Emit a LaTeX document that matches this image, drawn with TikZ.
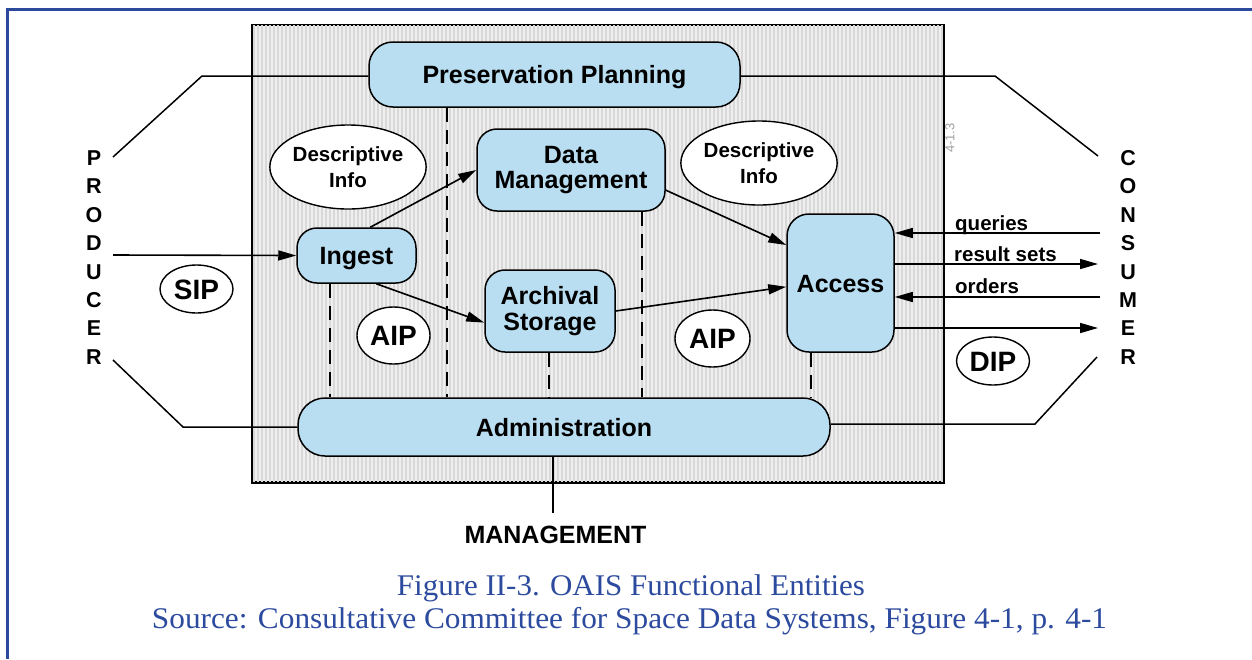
\documentclass[tikz,border=0pt]{standalone}
\usepackage{fontspec}
\usepackage{graphicx}
\newfontfamily\diagfont{Liberation Sans}
\newfontfamily\capfont{Liberation Serif}
\usetikzlibrary{arrows.meta,shapes.geometric}

\definecolor{frameblue}{HTML}{2B4A9C}
\definecolor{boxblue}{HTML}{B9DEF1}
\definecolor{hatchbg}{HTML}{EFEFEF}
\definecolor{hatchline}{HTML}{D8D8D8}
\definecolor{captionblue}{HTML}{2C4A9E}

\begin{document}
\begin{tikzpicture}[x=1pt,y=-1pt,
  entity/.style={draw=black, line width=1.5pt, fill=boxblue, align=center, inner sep=0pt,
    font=\diagfont\bfseries\fontsize{25}{25.5}\selectfont},
  infobubble/.style={ellipse, draw=black, line width=1.4pt, fill=white, inner sep=0pt, align=center,
    font=\diagfont\bfseries\fontsize{20.5}{26}\selectfont},
  package/.style={ellipse, draw=black, line width=1.4pt, fill=white, inner sep=0pt,
    text height=20pt, text depth=0pt,
    font=\diagfont\bfseries\fontsize{28}{30}\selectfont},
  flow/.style={line width=1.6pt, -{Triangle[length=18pt,width=10pt]}},
  link/.style={line width=1.5pt},
  tie/.style={line width=1.5pt, dash pattern=on 14pt off 8pt},
  party/.style={font=\diagfont\bfseries\fontsize{21.5}{21.5}\selectfont, inner sep=0pt},
  flowlabel/.style={font=\diagfont\bfseries\fontsize{20.5}{22}\selectfont, anchor=base west, inner sep=0pt},
  caption/.style={text=captionblue, anchor=base, inner sep=0pt, font=\capfont\fontsize{30}{32}\selectfont}
]
\useasboundingbox (0,0) rectangle (1252,659);
\fill[white] (0,0) rectangle (1252,659);

% page frame (open on the right and bottom)
\draw[frameblue, line width=3pt] (7,659) -- (7,9) -- (1252,9);

% hatched archive area
\node[draw=black, line width=1.5pt, fill=hatchbg, minimum width=691pt, minimum height=457pt, inner sep=0pt]
  (archive) at (597.5,253.5) {};
\begin{scope}
  \clip (archive.south west) rectangle (archive.north east);
  \foreach \x in {254,258,...,942} \draw[hatchline, line width=1.3pt] (\x,25) -- (\x,482);
\end{scope}
\draw[line width=1.5pt] (archive.south west) rectangle (archive.north east);
\node[rotate=90, text=gray!75, font=\diagfont\fontsize{13}{13}\selectfont, inner sep=0pt]
  (pagemark) at (950,138) {4-1.3};

% outside parties
\foreach \l [count=\i] in {P,R,O,D,U,C,E,R}
  \node[party] (prod\i) at (94,{158+28.43*(\i-1)}) {\l};
\foreach \l [count=\i] in {C,O,N,S,U,M,E,R}
  \node[party] (cons\i) at (1128,{158+28.43*(\i-1)}) {\l};

% anchor points for the free ends of the boundary lines
\coordinate (prodtop) at (113,157);
\coordinate (ptbend)  at (202,76);
\coordinate (prodbot) at (113,360);
\coordinate (pbbend)  at (183,427);
\coordinate (constop) at (1098,156);
\coordinate (ctbend)  at (995,76);
\coordinate (consbot) at (1097,357);
\coordinate (cbbend)  at (1035,424);
\coordinate (mgmtend) at (553,513);
\coordinate (prodout) at (113,255);
\coordinate (cq) at (1100,233);
\coordinate (cr) at (1098,264);
\coordinate (co) at (1100,297);
\coordinate (cd) at (1098,328);
\coordinate (t1) at (447,0);
\coordinate (t2) at (330,0);
\coordinate (t3) at (549,0);
\coordinate (t4) at (642,0);
\coordinate (t5) at (811,0);

% functional entities
\node[entity, rounded corners=24pt, minimum width=371pt, minimum height=65pt, text height=18pt, text depth=0pt]
  (pp) at (554.5,74.5) {Preservation Planning};
\node[entity, rounded corners=20pt, minimum width=188pt, minimum height=82pt]
  (dm) at (571,170) {Data\\Management};
\node[entity, rounded corners=20pt, minimum width=119pt, minimum height=55pt, text height=18pt, text depth=0pt]
  (ingest) at (356.5,255.5) {Ingest};
\node[entity, rounded corners=20pt, minimum width=130pt, minimum height=82pt]
  (as) at (550,311) {Archival\\Storage};
\node[entity, rounded corners=22pt, minimum width=107pt, minimum height=138pt, text height=18pt, text depth=0pt]
  (access) at (840.5,283) {Access};
\node[entity, rounded corners=27pt, minimum width=532pt, minimum height=58pt, text height=18pt, text depth=0pt]
  (admin) at (564,427) {Administration};

% boundary lines to producer, consumer and management
\draw[link] (prodtop) -- (ptbend) -- (pp.west |- ptbend);
\draw[link] (pp.east |- ctbend) -- (ctbend) -- (constop);
\draw[link] (prodbot) -- (pbbend) -- (admin.west |- pbbend);
\draw[link] (admin.east |- cbbend) -- (cbbend) -- (consbot);
\draw[link] (admin.south -| mgmtend) -- (mgmtend);
\node[font=\diagfont\bfseries\fontsize{25}{25}\selectfont, inner sep=0pt, text height=18pt, text depth=0pt]
  (mgmt) at (555.5,534.5) {MANAGEMENT};

% administration ties
\draw[tie] (pp.south -| t1) -- (admin.north -| t1);
\draw[tie] (ingest.south -| t2) -- (admin.north -| t2);
\draw[tie] (as.south -| t3) -- (admin.north -| t3);
\draw[tie] (dm.south -| t4) -- (admin.north -| t4);
\draw[tie] (access.south -| t5) -- (admin.north -| t5);

% information packages and descriptive info
\node[infobubble, minimum width=150pt, minimum height=84pt] (di1) at (348,167) {Descriptive\\Info};
\node[infobubble, minimum width=148pt, minimum height=84pt] (di2) at (759,163) {Descriptive\\Info};
\node[package, minimum width=73pt, minimum height=48pt] (sip) at (196.5,289) {SIP};
\node[package, minimum width=73pt, minimum height=57pt] (aip1) at (393.5,335.5) {AIP};
\node[package, minimum width=75pt, minimum height=57pt] (aip2) at (712.5,338.5) {AIP};
\node[package, minimum width=73pt, minimum height=48pt] (dip) at (993,361) {DIP};

% data flows
\draw[flow] (prodout) -- (ingest.west);
\draw[flow] (ingest.64) -- (dm.west);
\draw[flow] (ingest.-55) -- (as.190);
\draw[flow] (dm.-12) -- (access.145);
\draw[flow] (as.east) -- (access.184);
\draw[flow] (cq) -- (access.east |- cq);
\draw[flow] (access.east |- cr) -- (cr);
\draw[flow] (co) -- (access.east |- co);
\draw[flow] (access.east |- cd) -- (cd);
\node[flowlabel] (lq) at (955,230.7) {queries};
\node[flowlabel] (lr) at (954,261.7) {result sets};
\node[flowlabel] (lo) at (955,293.3) {orders};

% caption
\node[caption] (cap1) at (631,595.7)
  {\resizebox{468pt}{\height}{Figure II-3. OAIS Functional Entities}};
\node[caption] (cap2) at (629.5,628)
  {\resizebox{955pt}{\height}{Source: Consultative Committee for Space Data Systems, Figure 4-1, p. 4-1}};
\end{tikzpicture}
\end{document}
